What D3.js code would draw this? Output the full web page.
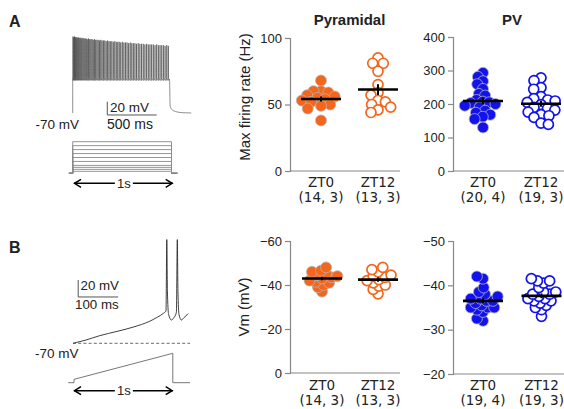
<!DOCTYPE html>
<html>
<head>
<meta charset="utf-8">
<script src="https://cdn.jsdelivr.net/npm/d3@7"></script>
<style>
  body { margin: 0; background: #fff; }
  svg { display: block; }
  text { font-family: "Liberation Sans", Arial, sans-serif; fill: #222; }
</style>
</head>
<body>
<svg id="fig" width="564" height="409"></svg>
<script>
// ---------- data ----------
const groups = ["ZT0", "ZT12"];

// Max firing rate (Hz)
const pyrRateZT0 = [68, 60, 60, 59, 57, 56, 55, 54, 53, 52, 50, 49, 47, 38];
const pyrRateZT12 = [85, 81, 81, 75, 65, 59, 57, 53, 52, 50, 48, 46, 44];
const pvRateZT0 = [293, 281, 268, 259, 245, 230, 225, 212, 207, 205, 203, 200, 195, 190, 180, 174, 168, 162, 155, 130];
const pvRateZT12 = [278, 270, 249, 244, 222, 216, 212, 209, 205, 198, 190, 187, 182, 176, 168, 165, 160, 143, 139];

// Threshold potential Vm (mV)
const pyrVmZT0 = [-48, -46.5, -46, -45, -44.5, -44, -43.5, -43, -42, -41.5, -41, -40, -39, -37];
const pyrVmZT12 = [-48, -47, -46, -44.5, -44, -43.5, -42.5, -42, -41, -40, -39.5, -38, -36];
const pvVmZT0 = [-42, -41.5, -39.5, -38.5, -38, -37.5, -37, -36.5, -36.5, -37, -36, -35.5, -35, -35, -34.5, -35, -34, -32.5, -32];
const pvVmZT12 = [-41.5, -41, -41, -40.5, -39.5, -38.5, -38.5, -38, -38, -37.5, -37, -37, -36.5, -36.5, -36, -35.5, -35, -34.5, -33];

// (cells, animals)
const pyrRateCounts = ["(14, 3)", "(13, 3)"];
const pvRateCounts = ["(20, 4)", "(19, 3)"];
const pyrVmCounts = ["(14, 3)", "(13, 3)"];
const pvVmCounts = ["(19, 4)", "(19, 3)"];

const rateTicksPyr = [0, 50, 100];
const rateTicksPv = [0, 100, 200, 300, 400];
const vmTicksPyr = [0, -20, -40, -60];
const vmTicksPv = [-20, -30, -40, -50];

// Example recordings: spike times (ms) and peaks (mV) during a 1 s current step
const stepSpikes = [
  [3,45],[11,44],[19,45],[27,44],[36,44],[45,43],[54,44],[63,43],[73,43],[83,43],[93,42],
  [104,43],[115,42],[126,42],[137,42],[148,41],[160,42],[172,41],[184,41],[196,41],[208,40],
  [220,41],[232,40],[245,40],[258,40],[271,39],[284,40],[297,39],
  [311,39],[325,39],[339,38],[353,39],[367,38],[381,38],[396,38],[411,37],[426,38],[441,37],
  [456,37],[471,37],[486,36],[502,37],[518,36],[534,36],[550,36],[566,35],[582,36],[598,35],
  [614,35],[630,35],[646,34],[663,35],[680,34],[697,34],[714,34],[731,33],[748,34],[765,33],
  [782,33],[799,33],[816,33],[833,32],[850,33],[867,32],[884,32],[901,32],[918,32],[935,31],
  [952,32],[968,31]
];
const stepTrough = -21, stepPreSpike = -17;
// membrane relaxation after the step ends (ms, mV)
const stepDecay = [[980,-19],[986,-58],[995,-63],[1020,-66.5],[1060,-68.5],[1110,-69.5],[1200,-70]];
// injected current levels (pA)
const stepLevels = [25, 50, 75, 100, 150, 200, 250, 300, 350, 400];

// Ramp recording (ms, mV)
const rampTrace = [
  [0,-70],[30,-66.5],[67,-61],[110,-56],[150,-51],[192,-44],[212,-39],[227,-34.4],[232.5,-32],
  [234.5,52],[236,-8],[239,-36],[246,-42.6],[252,-40],[258.5,-33.5],
  [260.8,52],[262.3,-8],[265,-36],[271,-42.6],[277,-40],[285,-36.5],[288,-35]
];
// ramp current (ms, pA)
const rampStim = [[-58,0],[0,0],[0.01,20],[1000,175],[1000.01,0],[1174,0]];

// ---------- drawing ----------
const svg = d3.select("#fig");
const orange = "#f4661b", blue = "#1212ec";

// simple deterministic beeswarm: each point takes the offset nearest the centre that keeps minD spacing
function swarm(vals, y, minD) {
  const placed = [];
  const order = vals.map((v, i) => i).sort((a, b) => d3.descending(vals[a], vals[b]));
  order.forEach(i => {
    const py = y(vals[i]);
    const iv = [];
    placed.forEach(p => {
      const dy = Math.abs(p.y - py);
      if (dy < minD) { const dx = Math.sqrt(minD * minD - dy * dy); iv.push([p.dx - dx, p.dx + dx]); }
    });
    const cands = [0];
    iv.forEach(q => cands.push(q[0], q[1]));
    cands.sort((a, b) => Math.abs(a) - Math.abs(b) || a - b);
    const dx = cands.find(c => iv.every(q => c <= q[0] + 1e-6 || c >= q[1] - 1e-6));
    placed.push({ dx, y: py, v: vals[i] });
  });
  return placed;
}

function scatterPanel(cfg) {
  const g = svg.append("g");
  const y = d3.scaleLinear().domain(cfg.domain).range(cfg.yRange);
  const x = d3.scalePoint().domain(groups).range(cfg.xRange);

  const ax = g.append("g").attr("transform", `translate(${cfg.axisX},0)`)
    .call(d3.axisLeft(y).tickValues(cfg.ticks).tickSize(5).tickPadding(3).tickFormat(d3.format("d")));
  ax.select(".domain").attr("stroke", "#888").attr("stroke-width", 1.2);
  ax.selectAll(".tick line").attr("stroke", "#888").attr("stroke-width", 1.2);
  ax.selectAll(".tick text").attr("font-size", 13).attr("fill", "#333")
    .attr("font-family", "Liberation Sans, Arial, sans-serif");

  // baseline of the plot
  g.append("line").attr("x1", cfg.axisX).attr("x2", cfg.lineEnd)
    .attr("y1", cfg.yRange[0]).attr("y2", cfg.yRange[0])
    .attr("stroke", "#888").attr("stroke-width", 1.2);

  cfg.values.forEach((vals, gi) => {
    const cx = x(groups[gi]);
    const pts = swarm(vals, y, cfg.spacing[gi]);
    const filled = gi === 0;
    g.append("g").selectAll("circle").data(pts).join("circle")
      .attr("cx", d => cx + d.dx).attr("cy", d => d.y).attr("r", filled ? 5.5 : 5.0)
      .attr("fill", filled ? cfg.color : "#fff")
      .attr("stroke", filled ? "#b4b4b4" : cfg.color)
      .attr("stroke-width", filled ? 0.8 : 1.7);

    const m = d3.mean(vals);
    const sem = d3.deviation(vals) / Math.sqrt(vals.length);
    g.append("line").attr("x1", cx - 20).attr("x2", cx + 20)
      .attr("y1", y(m)).attr("y2", y(m)).attr("stroke", "#000").attr("stroke-width", 2.6);
    g.append("line").attr("x1", cx).attr("x2", cx)
      .attr("y1", y(m - sem)).attr("y2", y(m + sem)).attr("stroke", "#000").attr("stroke-width", 2);

    g.append("text").attr("x", cx).attr("y", cfg.labelY).attr("text-anchor", "middle")
      .style("font-family", "DejaVu Sans, Verdana, sans-serif").attr("font-size", 13.5).attr("fill", "#333")
      .text(groups[gi]);
    g.append("text").attr("x", cx).attr("y", cfg.labelY + 15).attr("text-anchor", "middle")
      .style("font-family", "DejaVu Sans, Verdana, sans-serif").attr("font-size", 13.5).attr("fill", "#333")
      .text(cfg.counts[gi]);
  });

  if (cfg.title) {
    g.append("text").attr("x", (cfg.xRange[0] + cfg.xRange[1]) / 2).attr("y", 25)
      .attr("text-anchor", "middle").attr("font-weight", "bold").attr("font-size", 15).attr("fill", "#111")
      .text(cfg.title);
  }
  if (cfg.yLabel) {
    g.append("text").attr("transform", `translate(${cfg.yLabelX},${cfg.yLabelY}) rotate(-90)`)
      .attr("text-anchor", "middle").attr("font-size", 15).attr("fill", "#333").text(cfg.yLabel);
  }
}

scatterPanel({ axisX: 290, domain: [0, 100], yRange: [171, 38], ticks: rateTicksPyr, xRange: [321, 378], lineEnd: 400,
  values: [pyrRateZT0, pyrRateZT12], color: orange, counts: pyrRateCounts, labelY: 187, spacing: [7.5, 7.5],
  title: "Pyramidal", yLabel: "Max firing rate (Hz)", yLabelX: 250, yLabelY: 97 });
scatterPanel({ axisX: 453, domain: [0, 400], yRange: [171, 37], ticks: rateTicksPv, xRange: [483, 541], lineEnd: 564,
  values: [pvRateZT0, pvRateZT12], color: blue, counts: pvRateCounts, labelY: 187, spacing: [6.5, 7.5], title: "PV" });
scatterPanel({ axisX: 290, domain: [0, -60], yRange: [373, 241], ticks: vmTicksPyr, xRange: [322, 378], lineEnd: 400,
  values: [pyrVmZT0, pyrVmZT12], color: orange, counts: pyrVmCounts, labelY: 390, spacing: [6, 6.5],
  yLabel: "Vm (mV)", yLabelX: 249, yLabelY: 307 });
scatterPanel({ axisX: 453, domain: [-20, -50], yRange: [374, 241], ticks: vmTicksPv, xRange: [483, 541.5], lineEnd: 564,
  values: [pvVmZT0, pvVmZT12], color: blue, counts: pvVmCounts, labelY: 390, spacing: [6.5, 6.5] });

// panel letters
svg.append("text").attr("x", 9).attr("y", 27).attr("font-weight", "bold").attr("font-size", 16).attr("fill", "#000").text("A");
svg.append("text").attr("x", 9).attr("y", 253).attr("font-weight", "bold").attr("font-size", 16).attr("fill", "#000").text("B");

// ---------- A: current-step recording ----------
const tA = d3.scaleLinear().domain([0, 500]).range([72.7, 72.7 + 49.4]);
const vA = d3.scaleLinear().domain([-70, -50]).range([113, 113 - 13.3]);
const stepPts = [[-0.01, -70], [0, stepPreSpike]];
stepSpikes.forEach(([t, p]) => { stepPts.push([t - 0.3, stepPreSpike], [t, p], [t + 0.6, stepTrough]); });
stepDecay.forEach(d => stepPts.push(d));
svg.append("path").attr("d", d3.line().x(d => tA(d[0])).y(d => vA(d[1])).curve(d3.curveMonotoneX)(stepPts))
  .attr("fill", "none").attr("stroke", "#333").attr("stroke-width", 0.55);

// scale bar A: 20 mV / 500 ms
svg.append("path").attr("d", `M${tA(350)},${vA(-53)}V${vA(-73)}H${tA(850)}`)
  .attr("fill", "none").attr("stroke", "#555").attr("stroke-width", 1);
svg.append("text").attr("x", 110).attr("y", 111.5).attr("font-size", 13.5).attr("fill", "#333").text("20 mV");
svg.append("text").attr("x", 107).attr("y", 129).attr("font-size", 14).attr("fill", "#333").text("500 ms");
svg.append("text").attr("x", 35.5).attr("y", 129).attr("font-size", 13.5).attr("fill", "#333").text("-70 mV");

// current steps
const iA = d3.scaleLinear().domain([0, 400]).range([173.3, 141.7]);
stepLevels.forEach(a => {
  svg.append("path").attr("d", d3.line().x(d => tA(d[0])).y(d => iA(d[1]))(
      [[-38, 0], [0, 0], [0, a], [1000, a], [1000, 0], [1058, 0]]))
    .attr("fill", "none").attr("stroke", "#8a8a8a").attr("stroke-width", 0.9);
});

function durationArrow(x0, x1, yy) {
  const g = svg.append("g");
  g.append("line").attr("x1", x0).attr("x2", x1).attr("y1", yy).attr("y2", yy).attr("stroke", "#000").attr("stroke-width", 1.5);
  g.append("path").attr("d", `M${x0 + 7},${yy - 4}L${x0 + 0.5},${yy}L${x0 + 7},${yy + 4}M${x1 - 7},${yy - 4}L${x1 - 0.5},${yy}L${x1 - 7},${yy + 4}`)
    .attr("fill", "none").attr("stroke", "#000").attr("stroke-width", 1.5);
  const cx = (x0 + x1) / 2 + 0.5;
  g.append("rect").attr("x", cx - 9).attr("y", yy - 7).attr("width", 18).attr("height", 14).attr("fill", "#fff");
  g.append("text").attr("x", cx).attr("y", yy + 4.5).attr("text-anchor", "middle").attr("font-size", 13).attr("fill", "#222").text("1s");
}
durationArrow(74, 172.7, 183.3);

// ---------- B: ramp recording ----------
const tB = d3.scaleLinear().domain([0, 100]).range([73, 113]);
const vB = d3.scaleLinear().domain([-70, -50]).range([343.3, 343.3 - 17]);
svg.append("line").attr("x1", 73).attr("x2", 190).attr("y1", vB(-70)).attr("y2", vB(-70))
  .attr("stroke", "#444").attr("stroke-width", 0.8).attr("stroke-dasharray", "3,2.2");
svg.append("path").attr("d", d3.line().x(d => tB(d[0])).y(d => vB(d[1])).curve(d3.curveMonotoneX)(rampTrace))
  .attr("fill", "none").attr("stroke", "#2a2a2a").attr("stroke-width", 0.9);

// scale bar B: 20 mV / 100 ms
svg.append("path").attr("d", `M${tB(13)},${vB(4.5)}V${vB(-15.5)}H${tB(113)}`)
  .attr("fill", "none").attr("stroke", "#555").attr("stroke-width", 1);
svg.append("text").attr("x", 80.5).attr("y", 289.5).attr("font-size", 13.3).attr("fill", "#333").text("20 mV");
svg.append("text").attr("x", 75).attr("y", 309).attr("font-size", 13.3).attr("fill", "#333").text("100 ms");
svg.append("text").attr("x", 35).attr("y", 358).attr("font-size", 13.5).attr("fill", "#333").text("-70 mV");

const tS = d3.scaleLinear().domain([0, 1000]).range([74, 172.8]);
const iB = d3.scaleLinear().domain([0, 175]).range([382.7, 353.3]);
svg.append("path").attr("d", d3.line().x(d => tS(d[0])).y(d => iB(d[1]))(rampStim))
  .attr("fill", "none").attr("stroke", "#777").attr("stroke-width", 1);
durationArrow(74, 172.7, 390.7);
</script>
</body>
</html>
